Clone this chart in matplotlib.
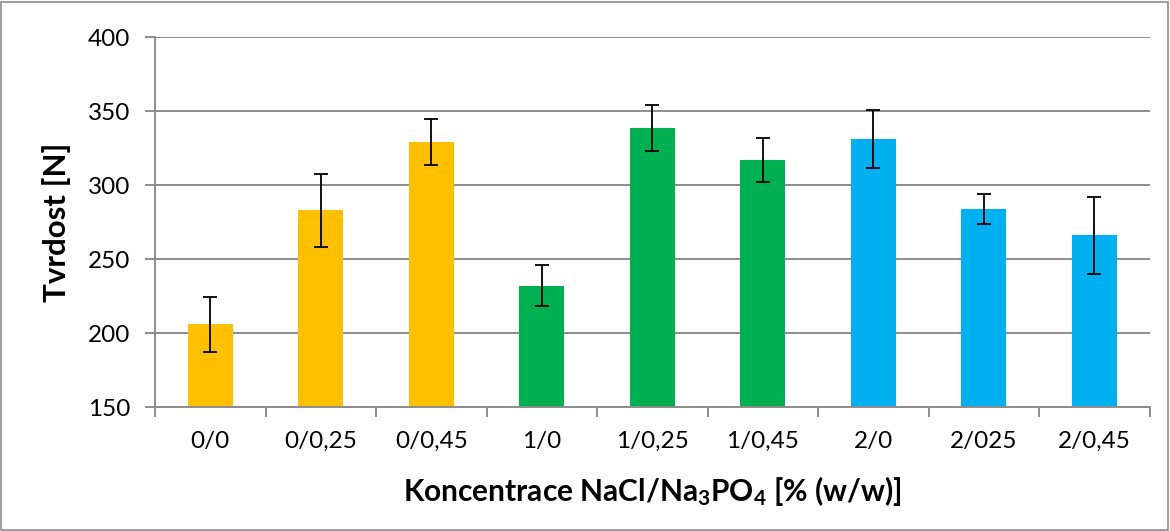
import numpy as np
import matplotlib.pyplot as plt
from matplotlib.patches import Rectangle

# values
categories = ["0/0", "0/0,25", "0/0,45", "1/0", "1/0,25", "1/0,45", "2/0", "2/025", "2/0,45"]
hardness = [206, 283, 329, 232, 338.5, 317, 331, 284, 266]
errors = [18.5, 24.5, 15.7, 13.8, 15.7, 14.6, 19.5, 10.3, 25.8]
colors = ["#FFC000"] * 3 + ["#00B050"] * 3 + ["#00B0F0"] * 3

plt.rcParams["font.family"] = "Lato"
plt.rcParams["mathtext.fontset"] = "custom"
plt.rcParams["mathtext.rm"] = "Lato:bold"
plt.rcParams["mathtext.it"] = "Lato:bold"
plt.rcParams["mathtext.bf"] = "Lato:bold"

fig = plt.figure(figsize=(11.7, 5.31), dpi=100)
ax = fig.add_axes([0.1325, 0.2335, 0.850, 0.6965])

x = np.arange(len(categories))
ax.bar(x, hardness, width=0.41, color=colors, zorder=2)
ax.errorbar(x, hardness, yerr=errors, fmt="none", ecolor="black",
            elinewidth=1.3, capsize=5, capthick=1.3, zorder=3)

ax.set_ylim(150, 400)
ax.set_xlim(-0.5, len(categories) - 0.5)
ax.set_yticks(np.arange(150, 401, 50))
ax.yaxis.grid(True, color="#8c8c8c", linewidth=1.4, zorder=0)
ax.set_axisbelow(True)

# category labels centred, tick marks on category boundaries
ax.set_xticks(x)
ax.set_xticklabels(categories)
ax.set_xticks(np.arange(-0.5, len(categories)), minor=True)
ax.tick_params(axis="x", which="major", length=0, labelsize=17.5, pad=17)
ax.tick_params(axis="x", which="minor", length=7, width=1.4, color="#8c8c8c")
ax.tick_params(axis="y", length=7, width=1.4, color="#8c8c8c", labelsize=17.5, pad=11)

for s in ["top", "right"]:
    ax.spines[s].set_visible(False)
for s in ["left", "bottom"]:
    ax.spines[s].set_color("#8c8c8c")
    ax.spines[s].set_linewidth(1.4)

ax.set_ylabel("Tvrdost [N]", fontsize=22.5, fontweight="bold", labelpad=12)
ax.set_xlabel(r"Koncentrace NaCl/Na$_3$PO$_4$ [% (w/w)]", fontsize=21.5,
              fontweight="bold", labelpad=16)

fig.patches.append(Rectangle((0.001, 0.002), 0.997, 0.995, transform=fig.transFigure,
                             fill=False, edgecolor="#8c8c8c", linewidth=1.2))

fig.savefig("out.png", dpi=100)
